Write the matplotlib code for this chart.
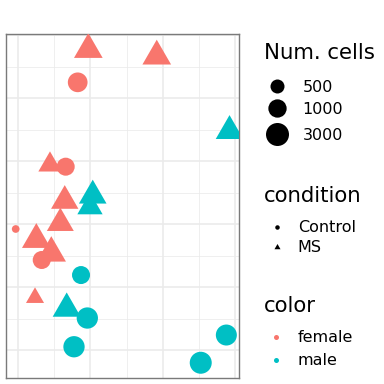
import numpy as np
import matplotlib
matplotlib.use("Agg")
import matplotlib.pyplot as plt
from matplotlib.path import Path

plt.rcParams['font.family'] = ['DejaVu Sans']

# ---------------- data ----------------
x_vals = [0.972, 1.918, 0.825, 2.924, 0.442, 0.659, 0.646, 1.033, 0.995, 0.585,
          -0.032, 0.253, 0.460, 0.328, 0.871, 0.235, 0.673, 0.958, 0.774, 2.880, 2.526]
y_vals = [4.768, 4.663, 4.249, 3.476, 2.940, 2.910, 2.367, 2.451, 2.270, 2.013,
          1.921, 1.752, 1.538, 1.429, 1.190, 0.830, 0.657, 0.508, 0.052, 0.238, -0.202]
condition = ['MS', 'MS', 'Control', 'MS', 'MS', 'Control', 'MS', 'MS', 'MS', 'MS',
             'Control', 'MS', 'MS', 'Control', 'Control', 'MS', 'MS', 'Control',
             'Control', 'Control', 'Control']
sex = ['female', 'female', 'female', 'male', 'female', 'female', 'female', 'male',
       'male', 'female', 'female', 'female', 'female', 'female', 'male', 'female',
       'male', 'male', 'male', 'male', 'male']
num_cells = [2010, 2010, 1390, 1670, 850, 955, 1600, 1670, 1120, 1490,
             100, 2010, 2260, 955, 955, 430, 1795, 2010, 2010, 1880, 2370]

size_breaks = [500, 1000, 3000]
condition_levels = ['Control', 'MS']
color_levels = ['female', 'male']

# ---------------- styles ----------------
palette = {'female': '#F8766D', 'male': '#00BFC4'}
tri = Path([(0, 1), (-np.sqrt(3) / 2, -0.5), (np.sqrt(3) / 2, -0.5), (0, 1)],
           [Path.MOVETO, Path.LINETO, Path.LINETO, Path.CLOSEPOLY])
shape_map = {'Control': 'o', 'MS': tri}
TRI_FACTOR = 1.555  # equal-area triangle (R pch 17)


def diam(n):
    # size scale: number of cells -> marker diameter (px)
    return np.interp(np.log10(n), np.log10([100, 500, 1000, 3000, 6000]),
                     [7.7, 14.0, 18.3, 23.0, 26.0])


def marker_s(d, shape):
    f = TRI_FACTOR if shape == 'MS' else 1.0
    return (f * d) ** 2


DPI = 72
fig = plt.figure(figsize=(384 / DPI, 384 / DPI), dpi=DPI)
fig.patch.set_facecolor('white')

L, R, T, B = 5.5, 239.0, 34.0, 378.0
ax = fig.add_axes([L / 384, 1 - B / 384, (R - L) / 384, (B - T) / 384])
ax.set_facecolor('white')
ax.set_xlim(-0.173, 3.055)
ax.set_ylim(-0.444, 5.016)
ax.set_xticks([0, 1, 2, 3])
ax.set_xticks([0.5, 1.5, 2.5], minor=True)
ax.set_yticks([0, 1, 2, 3, 4, 5])
ax.set_yticks([0.5, 1.5, 2.5, 3.5, 4.5], minor=True)
ax.grid(True, which='major', color='#EBEBEB', linewidth=1.6)
ax.grid(True, which='minor', color='#EBEBEB', linewidth=0.8)
ax.set_axisbelow(True)
ax.tick_params(which='both', length=0, labelbottom=False, labelleft=False)
for sp in ax.spines.values():
    sp.set_color('#7a7a7a')
    sp.set_linewidth(1.4)

x = np.array(x_vals)
y = np.array(y_vals)
n = np.array(num_cells)
for cond in condition_levels:
    for s_ in color_levels:
        idx = [i for i in range(len(x)) if condition[i] == cond and sex[i] == s_]
        if not idx:
            continue
        ax.scatter(x[idx], y[idx], s=[marker_s(diam(n[i]), cond) for i in idx],
                   marker=shape_map[cond], c=palette[s_], linewidths=0, zorder=3)

# ---------------- legends ----------------
lax = fig.add_axes([0, 0, 1, 1], zorder=5)
lax.set_xlim(0, 384)
lax.set_ylim(384, 0)
lax.axis('off')
lax.patch.set_visible(False)

TITLE_FS = 21.3
LAB_FS = 16
tx = 264

lax.text(tx, 58.7, 'Num. cells', fontsize=TITLE_FS, va='baseline', ha='left')
for yy, br in zip([86.0, 108.3, 133.7], size_breaks):
    lax.scatter([277.3], [yy], s=marker_s(diam(br), 'Control'), c='black',
                marker='o', linewidths=0)
    lax.text(302.7, yy + 5.8, f'{br}', fontsize=LAB_FS, va='baseline', ha='left')

lax.text(tx, 201.7, 'condition', fontsize=TITLE_FS, va='baseline', ha='left')
for yy, lv in zip([226.5, 247.2], condition_levels):
    lax.scatter([276.5], [yy], s=marker_s(4.5, lv), c='black',
                marker=shape_map[lv], linewidths=0)
    lax.text(297.7, yy + 5.2, lv, fontsize=LAB_FS, va='baseline', ha='left')

lax.text(tx, 312.3, 'color', fontsize=TITLE_FS, va='baseline', ha='left')
for yy, lv in zip([336.7, 360.0], color_levels):
    lax.scatter([275.5], [yy], s=marker_s(5.0, 'Control'), c=palette[lv],
                marker='o', linewidths=0)
    lax.text(297.7, yy + 5.2, lv, fontsize=LAB_FS, va='baseline', ha='left')

fig.savefig('out.png', dpi=DPI)
